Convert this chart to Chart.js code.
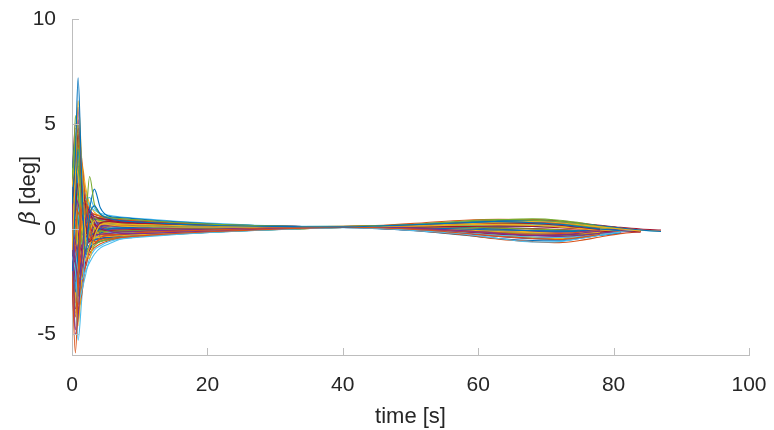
<!DOCTYPE html>
<html>
<head>
<meta charset="utf-8">
<script src="https://cdn.jsdelivr.net/npm/chart.js@4/dist/chart.umd.min.js"></script>
<style>
  html, body { margin: 0; padding: 0; background: #ffffff; }
  #wrap { width: 774px; height: 430px; }
</style>
</head>
<body>
<div id="wrap"><canvas id="c" width="774" height="430"></canvas></div>
<script>
// Sample times [s] shared by every simulation run
const timeSec = [0, 0.5, 0.9, 1.4, 2, 2.6, 3.3, 4.2, 5.5, 7, 9, 12, 16, 21, 27, 34, 40, 46, 52, 58, 63, 68, 72, 75, 78, 81, 84, 87];

// Sideslip angle beta [deg] per run (null once a run has finished)
const run01 = [1.2, 3.5, 7.2, 2.8, -1.2, 0.6, 1.1, 0.7, 0.5, 0.4, 0.35, 0.3, 0.22, 0.17, 0.13, 0.11, 0.1, 0.15, 0.22, 0.3, 0.35, 0.3, 0.22, 0.12, 0.0, -0.08, null, null];
const run02 = [-2.0, -5.9, -3.2, 0.8, 1.3, 0.2, -0.6, -0.5, -0.45, -0.4, -0.35, -0.28, -0.2, -0.12, -0.05, 0.04, 0.09, 0.05, -0.05, -0.2, -0.35, -0.45, -0.5, -0.4, -0.25, null, null, null];
const run03 = [-1.0, 2.5, 6.1, 3.5, -0.5, -1.4, -0.4, 0.2, 0.3, 0.25, 0.22, 0.2, 0.16, 0.14, 0.12, 0.11, 0.12, 0.12, 0.18, 0.25, 0.32, 0.36, 0.3, 0.2, 0.1, 0.0, -0.1, null];
const run04 = [1.5, -5.0, -4.2, -1.5, 0.4, 0.9, 0.5, 0.1, -0.1, -0.2, -0.22, -0.2, -0.15, -0.1, -0.02, 0.05, 0.08, 0.08, 0.02, -0.08, -0.2, -0.3, -0.28, -0.2, -0.1, null, null, null];
const run05 = [2.4, 4.2, 5.0, 1.0, 0.6, 2.5, 1.2, 0.7, 0.55, 0.5, 0.45, 0.38, 0.3, 0.22, 0.16, 0.12, 0.13, 0.16, 0.25, 0.38, 0.45, 0.42, 0.35, 0.25, 0.12, 0.0, null, null];
const run06 = [-1.3, -2.0, -3.5, -3.0, -2.2, -1.4, -1.0, -0.8, -0.6, -0.48, -0.42, -0.34, -0.25, -0.15, -0.06, 0.03, 0.06, 0.02, -0.1, -0.25, -0.45, -0.62, -0.6, -0.45, -0.3, -0.15, null, null];
const run07 = [0.9, 3.0, 4.5, 2.0, 0.3, -0.6, -0.2, 0.3, 0.35, 0.3, 0.26, 0.22, 0.18, 0.15, 0.12, 0.11, 0.1, 0.13, 0.2, 0.28, 0.3, 0.26, 0.18, 0.08, -0.02, null, null, null];
const run08 = [-2.6, 1.5, 3.8, 1.2, 0.2, 1.0, 1.9, 1.0, 0.6, 0.55, 0.5, 0.42, 0.33, 0.24, 0.17, 0.12, 0.11, 0.14, 0.2, 0.3, 0.38, 0.4, 0.34, 0.25, 0.15, 0.05, -0.05, -0.12];
const run09 = [0.7, -4.2, -2.0, 1.5, 0.8, -0.3, -0.7, -0.4, -0.3, -0.25, -0.2, -0.15, -0.1, -0.05, 0.02, 0.06, 0.09, 0.07, 0.0, -0.1, -0.18, -0.25, -0.22, -0.15, null, null, null, null];
const run10 = [2.0, 3.2, 2.5, 0.5, -0.8, -0.2, 0.4, 0.35, 0.2, 0.15, 0.12, 0.1, 0.08, 0.08, 0.09, 0.1, 0.1, 0.12, 0.15, 0.2, 0.22, 0.18, 0.1, 0.02, -0.05, -0.1, null, null];
const run11 = [0.2, -1.5, -2.8, -2.0, -1.0, -0.5, -0.3, -0.25, -0.2, -0.15, -0.12, -0.08, -0.04, 0.0, 0.04, 0.08, 0.1, 0.06, -0.02, -0.12, -0.22, -0.3, -0.35, -0.3, -0.2, -0.1, null, null];
const run12 = [-0.9, 5.4, 3.0, -0.5, -1.0, 0.0, 0.5, 0.4, 0.3, 0.25, 0.2, 0.18, 0.15, 0.13, 0.12, 0.11, 0.12, 0.14, 0.22, 0.32, 0.42, 0.48, 0.42, 0.3, 0.15, null, null, null];
const run13 = [-0.8, -1.2, -2.0, -2.4, -2.0, -1.6, -1.2, -0.9, -0.7, -0.5, -0.4, -0.3, -0.22, -0.14, -0.06, 0.02, 0.07, 0.04, -0.05, -0.18, -0.3, -0.38, -0.4, -0.35, -0.25, -0.12, -0.05, null];
const run14 = [0.0, 1.0, 2.2, 1.8, 1.2, 0.8, 0.6, 0.5, 0.45, 0.4, 0.35, 0.3, 0.24, 0.18, 0.14, 0.12, 0.11, 0.1, 0.1, 0.12, 0.14, 0.12, 0.06, 0.0, -0.06, null, null, null];
const run15 = [-1.0, -3.0, -1.0, 0.5, 0.2, -0.3, -0.2, 0.0, 0.05, 0.05, 0.06, 0.07, 0.08, 0.08, 0.09, 0.1, 0.1, 0.08, 0.05, 0.0, -0.05, -0.08, -0.1, -0.12, null, null, null, null];
const run16 = [1.7, 2.0, 4.0, 3.0, 1.5, 0.9, 0.7, 0.6, 0.5, 0.45, 0.4, 0.34, 0.27, 0.2, 0.15, 0.12, 0.13, 0.18, 0.3, 0.42, 0.46, 0.44, 0.36, 0.26, 0.15, 0.05, -0.05, null];
const run17 = [-2.2, -3.0, -4.6, -2.5, 0.0, 0.5, 0.1, -0.3, -0.35, -0.32, -0.28, -0.24, -0.18, -0.1, -0.03, 0.05, 0.09, 0.1, 0.08, 0.02, -0.06, -0.15, -0.2, -0.2, -0.15, null, null, null];
const run18 = [1.0, 1.5, 1.2, 0.6, 0.2, 0.0, 0.1, 0.15, 0.15, 0.12, 0.1, 0.08, 0.07, 0.08, 0.09, 0.1, 0.1, 0.09, 0.06, 0.02, -0.05, -0.12, -0.15, -0.12, -0.06, 0.0, null, null];
const run19 = [-1.2, -1.8, -1.0, -0.2, 0.3, 0.2, 0.0, -0.1, -0.12, -0.1, -0.08, -0.05, -0.02, 0.02, 0.05, 0.08, 0.1, 0.12, 0.14, 0.18, 0.22, 0.25, 0.22, 0.16, 0.08, 0.0, null, null];
const run20 = [2.9, 2.5, 3.5, 2.5, 1.6, 1.1, 0.9, 0.75, 0.65, 0.58, 0.52, 0.45, 0.36, 0.27, 0.18, 0.13, 0.12, 0.1, 0.12, 0.16, 0.2, 0.22, 0.18, 0.1, null, null, null, null];
const run21 = [0.3, -2.5, -1.5, 0.5, 1.2, 0.8, 0.3, 0.0, -0.1, -0.12, -0.1, -0.08, -0.04, 0.0, 0.04, 0.08, 0.1, 0.05, -0.05, -0.15, -0.25, -0.3, -0.28, -0.22, -0.14, -0.08, -0.1, null];
const run22 = [-0.5, 0.8, 2.8, 2.2, 0.8, 0.0, -0.3, -0.2, 0.0, 0.05, 0.07, 0.08, 0.09, 0.09, 0.1, 0.1, 0.1, 0.11, 0.1, 0.05, -0.02, -0.08, -0.1, -0.08, -0.05, -0.08, null, null];
const run23 = [-0.4, -1.0, -3.8, -3.2, -1.8, -1.2, -0.9, -0.7, -0.55, -0.45, -0.38, -0.3, -0.2, -0.12, -0.04, 0.04, 0.09, 0.12, 0.16, 0.22, 0.28, 0.3, 0.26, 0.18, 0.08, null, null, null];
const run24 = [-1.7, 4.8, 4.0, 0.0, -1.5, -0.8, 0.0, 0.2, 0.25, 0.22, 0.2, 0.17, 0.14, 0.12, 0.11, 0.1, 0.1, 0.06, -0.02, -0.14, -0.28, -0.4, -0.45, -0.38, -0.25, -0.12, null, null];
const run25 = [0.0, -0.6, -1.2, -0.8, -0.4, -0.2, -0.1, -0.05, 0.0, 0.02, 0.03, 0.04, 0.05, 0.06, 0.08, 0.09, 0.1, 0.12, 0.15, 0.22, 0.3, 0.32, 0.28, 0.2, 0.1, 0.0, -0.08, null];
const run26 = [0.3, 2.0, 1.5, 0.3, -0.5, -0.6, -0.3, -0.1, 0.0, 0.05, 0.08, 0.08, 0.09, 0.09, 0.1, 0.1, 0.1, 0.08, 0.02, -0.1, -0.22, -0.3, -0.32, -0.28, -0.2, -0.12, null, null];
const run27 = [-1.1, -2.8, -5.3, -3.5, -1.0, 0.2, 0.3, 0.0, -0.15, -0.2, -0.2, -0.18, -0.14, -0.08, -0.02, 0.05, 0.09, 0.06, -0.02, -0.12, -0.2, -0.25, -0.22, -0.15, null, null, null, null];
const run28 = [0.1, 1.6, 3.0, 2.4, 1.0, 0.4, 0.2, 0.25, 0.3, 0.3, 0.28, 0.24, 0.2, 0.16, 0.13, 0.11, 0.1, 0.13, 0.2, 0.32, 0.42, 0.45, 0.38, 0.28, 0.18, 0.08, 0.0, -0.05];
const run29 = [-0.5, -2.2, -2.6, -1.6, -0.8, -0.6, -0.5, -0.45, -0.4, -0.35, -0.3, -0.24, -0.17, -0.1, -0.03, 0.04, 0.08, 0.05, -0.03, -0.15, -0.3, -0.45, -0.5, -0.42, -0.3, -0.18, null, null];
const run30 = [0.4, 1.0, 0.8, 0.4, 0.3, 0.25, 0.2, 0.2, 0.18, 0.16, 0.15, 0.14, 0.13, 0.12, 0.11, 0.1, 0.1, 0.12, 0.17, 0.25, 0.3, 0.28, 0.22, 0.12, 0.04, null, null, null];
const run31 = [-0.3, -0.8, -0.6, -0.4, -0.3, -0.25, -0.22, -0.2, -0.18, -0.16, -0.14, -0.11, -0.07, -0.03, 0.02, 0.06, 0.09, 0.07, 0.02, -0.05, -0.12, -0.18, -0.2, -0.18, -0.12, -0.05, null, null];
const run32 = [1.4, 3.8, 5.8, 1.5, -1.8, -0.8, 0.2, 0.35, 0.3, 0.25, 0.2, 0.17, 0.14, 0.12, 0.11, 0.1, 0.1, 0.14, 0.2, 0.26, 0.3, 0.32, 0.28, 0.2, 0.1, 0.02, null, null];
const run33 = [0.2, -3.3, -2.0, -0.5, -0.8, -1.1, -0.8, -0.6, -0.5, -0.42, -0.36, -0.3, -0.22, -0.14, -0.06, 0.02, 0.08, 0.1, 0.1, 0.08, 0.04, 0.0, -0.04, -0.08, -0.1, null, null, null];
const run34 = [-0.2, 1.2, 2.5, 1.5, 1.4, 1.5, 1.0, 0.7, 0.55, 0.48, 0.42, 0.36, 0.28, 0.2, 0.14, 0.11, 0.1, 0.16, 0.26, 0.36, 0.4, 0.36, 0.28, 0.18, 0.08, null, null, null];
const run35 = [-1.8, -1.5, -4.0, -2.8, -0.6, 0.3, 0.2, 0.0, -0.05, -0.05, -0.04, -0.03, 0.0, 0.03, 0.06, 0.08, 0.1, 0.12, 0.12, 0.1, 0.06, 0.02, -0.03, -0.06, -0.1, -0.12, -0.15, null];
const run36 = [1.0, 3.9, 2.0, -0.2, -0.3, 0.3, 0.45, 0.4, 0.3, 0.25, 0.2, 0.17, 0.14, 0.12, 0.11, 0.1, 0.1, 0.09, 0.08, 0.08, 0.1, 0.12, 0.08, 0.02, null, null, null, null];
const run37 = [0.0, -1.0, -2.0, -1.2, -0.5, -0.3, -0.25, -0.25, -0.25, -0.24, -0.22, -0.18, -0.13, -0.08, -0.02, 0.04, 0.07, 0.02, -0.1, -0.28, -0.48, -0.6, -0.65, -0.55, -0.38, -0.22, -0.12, null];
const run38 = [0.7, 2.2, 4.3, 2.8, 0.5, -0.4, -0.5, -0.2, 0.1, 0.18, 0.2, 0.18, 0.15, 0.13, 0.12, 0.11, 0.1, 0.12, 0.16, 0.2, 0.25, 0.28, 0.25, 0.18, 0.1, 0.02, -0.05, -0.1];
const run39 = [-0.7, -1.5, -1.8, -1.2, -0.6, -0.4, -0.35, -0.3, -0.28, -0.25, -0.22, -0.18, -0.13, -0.07, -0.01, 0.05, 0.09, 0.11, 0.14, 0.2, 0.26, 0.3, 0.28, 0.2, 0.1, null, null, null];
const run40 = [0.9, 1.8, 3.3, 1.8, 0.6, 0.4, 0.5, 0.55, 0.5, 0.45, 0.4, 0.33, 0.25, 0.18, 0.13, 0.11, 0.1, 0.08, 0.05, 0.0, -0.06, -0.1, -0.12, -0.1, -0.06, -0.02, null, null];
const run41 = [1.8, 3.0, 1.2, -0.6, -0.4, 0.2, 0.3, 0.25, 0.2, 0.18, 0.15, 0.12, 0.1, 0.09, 0.08, 0.08, 0.09, 0.12, 0.18, 0.24, 0.28, 0.3, 0.26, 0.18, 0.1, 0.02, null, null];
const run42 = [-2.2, -3.5, -1.0, 0.8, 0.6, 0.1, -0.2, -0.3, -0.3, -0.28, -0.25, -0.2, -0.15, -0.09, -0.03, 0.03, 0.07, 0.04, -0.04, -0.14, -0.24, -0.32, -0.34, -0.28, -0.18, null, null, null];
const run43 = [2.5, 4.4, 2.8, 0.4, -0.6, -0.5, -0.1, 0.1, 0.2, 0.22, 0.22, 0.2, 0.17, 0.14, 0.12, 0.11, 0.11, 0.15, 0.22, 0.3, 0.36, 0.38, 0.32, 0.22, 0.12, 0.04, -0.04, null];
const run44 = [-1.5, -0.5, 1.5, 2.0, 1.0, 0.3, 0.0, -0.1, -0.08, -0.05, -0.03, 0.0, 0.02, 0.04, 0.06, 0.08, 0.1, 0.1, 0.09, 0.07, 0.04, 0.0, -0.04, -0.07, -0.1, null, null, null];
const run45 = [0.8, -1.8, -3.0, -1.8, -0.9, -0.6, -0.45, -0.38, -0.32, -0.28, -0.25, -0.21, -0.16, -0.1, -0.04, 0.02, 0.07, 0.12, 0.18, 0.26, 0.33, 0.36, 0.32, 0.24, 0.14, 0.05, null, null];
const run46 = [-2.8, -4.8, -2.5, 0.2, 0.9, 0.6, 0.2, -0.05, -0.12, -0.15, -0.15, -0.13, -0.1, -0.06, -0.01, 0.04, 0.08, 0.06, 0.02, -0.04, -0.1, -0.16, -0.18, -0.16, -0.12, -0.08, -0.1, null];
const run47 = [1.2, 2.6, 3.6, 2.2, 1.0, 0.5, 0.35, 0.3, 0.28, 0.26, 0.24, 0.21, 0.18, 0.15, 0.13, 0.12, 0.12, 0.08, 0.02, -0.06, -0.14, -0.2, -0.22, -0.18, -0.12, -0.06, null, null];
const run48 = [-0.9, -2.0, -1.6, -0.6, 0.1, 0.3, 0.2, 0.05, -0.02, -0.04, -0.04, -0.03, -0.01, 0.02, 0.05, 0.08, 0.1, 0.13, 0.18, 0.25, 0.3, 0.33, 0.3, 0.22, 0.12, null, null, null];
const run49 = [2.0, 5.0, 4.2, 1.2, -0.3, -0.2, 0.4, 0.5, 0.42, 0.36, 0.31, 0.26, 0.2, 0.15, 0.12, 0.11, 0.11, 0.1, 0.08, 0.04, -0.02, -0.08, -0.1, -0.08, -0.05, null, null, null];
const run50 = [-1.8, -2.6, -3.2, -2.2, -1.3, -0.9, -0.7, -0.58, -0.5, -0.44, -0.38, -0.31, -0.23, -0.15, -0.07, 0.01, 0.07, 0.0, -0.12, -0.3, -0.45, -0.55, -0.56, -0.45, -0.3, -0.18, null, null];
const run51 = [0.5, 1.6, 2.4, 1.4, 0.5, 0.1, 0.0, 0.05, 0.1, 0.12, 0.13, 0.13, 0.12, 0.11, 0.1, 0.1, 0.1, 0.07, 0.01, -0.08, -0.16, -0.22, -0.24, -0.2, -0.14, null, null, null];
const run52 = [-0.6, 1.0, -0.8, -1.6, -1.0, -0.4, -0.15, -0.05, 0.0, 0.02, 0.03, 0.04, 0.05, 0.06, 0.07, 0.08, 0.09, 0.11, 0.13, 0.16, 0.18, 0.18, 0.14, 0.08, 0.02, -0.04, -0.08, null];
const run53 = [1.5, 3.4, 5.2, 2.2, 0.2, -0.2, 0.15, 0.3, 0.35, 0.34, 0.31, 0.27, 0.22, 0.17, 0.13, 0.11, 0.12, 0.15, 0.24, 0.34, 0.4, 0.42, 0.36, 0.26, 0.14, 0.04, null, null];
const run54 = [-2.5, -1.2, 0.8, 1.2, 0.4, -0.2, -0.4, -0.35, -0.3, -0.26, -0.22, -0.18, -0.13, -0.08, -0.02, 0.04, 0.09, 0.07, 0.02, -0.06, -0.14, -0.2, -0.22, -0.2, -0.14, -0.08, null, null];
const run55 = [0.0, 2.2, 3.0, 1.6, 0.9, 0.7, 0.6, 0.52, 0.46, 0.42, 0.38, 0.33, 0.27, 0.2, 0.15, 0.12, 0.11, 0.13, 0.18, 0.24, 0.28, 0.28, 0.24, 0.16, 0.08, 0.0, -0.06, -0.12];
const run56 = [-1.0, -3.8, -3.0, -1.0, 0.0, 0.2, 0.0, -0.15, -0.2, -0.22, -0.21, -0.18, -0.14, -0.09, -0.03, 0.03, 0.08, 0.03, -0.06, -0.18, -0.3, -0.4, -0.42, -0.34, -0.22, -0.12, null, null];
const run57 = [2.8, 2.0, 0.5, -0.5, -0.3, 0.1, 0.25, 0.28, 0.26, 0.23, 0.2, 0.17, 0.14, 0.12, 0.11, 0.1, 0.1, 0.14, 0.2, 0.28, 0.34, 0.36, 0.3, 0.2, null, null, null, null];
const run58 = [-0.4, -1.0, -2.2, -1.5, -0.7, -0.35, -0.2, -0.12, -0.08, -0.06, -0.05, -0.03, -0.01, 0.02, 0.05, 0.07, 0.09, 0.06, 0.0, -0.08, -0.16, -0.22, -0.24, -0.22, -0.16, -0.1, -0.06, null];
const run59 = [1.0, 0.5, 2.0, 2.6, 1.8, 1.0, 0.55, 0.4, 0.34, 0.3, 0.27, 0.23, 0.19, 0.15, 0.12, 0.11, 0.1, 0.09, 0.1, 0.12, 0.16, 0.18, 0.14, 0.08, 0.0, -0.06, null, null];
const run60 = [-2.0, -2.8, -0.5, 0.6, 0.2, -0.3, -0.5, -0.45, -0.38, -0.33, -0.29, -0.24, -0.18, -0.11, -0.04, 0.03, 0.08, 0.1, 0.12, 0.16, 0.2, 0.24, 0.22, 0.14, 0.06, null, null, null];
const run61 = [0.3, 2.8, 1.8, 0.0, -0.6, -0.3, 0.1, 0.2, 0.18, 0.15, 0.13, 0.11, 0.1, 0.09, 0.09, 0.09, 0.1, 0.12, 0.15, 0.2, 0.24, 0.24, 0.2, 0.13, 0.05, -0.03, null, null];
const run62 = [0.6, -0.4, -1.5, -1.2, -0.4, 0.1, 0.2, 0.1, 0.02, -0.02, -0.03, -0.03, -0.02, 0.01, 0.04, 0.07, 0.09, 0.05, -0.02, -0.12, -0.22, -0.28, -0.28, -0.22, -0.14, -0.06, null, null];
const run63 = [-0.8, 1.5, 4.8, 3.4, 1.2, 0.3, 0.1, 0.15, 0.2, 0.22, 0.23, 0.22, 0.19, 0.16, 0.13, 0.11, 0.11, 0.16, 0.24, 0.33, 0.38, 0.38, 0.33, 0.24, 0.14, null, null, null];
const run64 = [1.6, -0.6, -2.4, -2.0, -1.2, -0.75, -0.55, -0.45, -0.38, -0.32, -0.28, -0.23, -0.17, -0.1, -0.04, 0.03, 0.08, 0.12, 0.15, 0.18, 0.2, 0.2, 0.16, 0.1, 0.03, -0.04, -0.1, null];
const run65 = [-1.2, 0.4, 1.8, 1.0, 0.5, 0.55, 0.6, 0.5, 0.4, 0.34, 0.29, 0.24, 0.19, 0.15, 0.12, 0.11, 0.1, 0.06, -0.01, -0.1, -0.18, -0.24, -0.26, -0.22, -0.15, null, null, null];
const run66 = [0.2, -2.2, -1.8, -0.8, -0.5, -0.6, -0.62, -0.55, -0.47, -0.4, -0.35, -0.28, -0.2, -0.12, -0.05, 0.02, 0.07, 0.05, 0.0, -0.07, -0.14, -0.2, -0.22, -0.2, -0.14, -0.08, null, null];
const run67 = [2.2, 3.8, 2.2, 0.6, 0.2, 0.35, 0.5, 0.48, 0.42, 0.37, 0.32, 0.27, 0.21, 0.16, 0.12, 0.1, 0.1, 0.13, 0.18, 0.26, 0.32, 0.34, 0.3, 0.22, 0.12, 0.03, -0.05, null];
const run68 = [-1.4, -3.2, -4.4, -2.0, 0.3, 0.6, 0.3, 0.05, -0.06, -0.1, -0.11, -0.1, -0.08, -0.04, 0.0, 0.05, 0.09, 0.11, 0.13, 0.16, 0.2, 0.22, 0.2, 0.14, 0.06, null, null, null];
const run69 = [0.9, 2.4, 1.0, -0.4, -0.7, -0.4, -0.05, 0.1, 0.12, 0.1, 0.09, 0.08, 0.08, 0.08, 0.09, 0.09, 0.1, 0.07, 0.02, -0.05, -0.12, -0.18, -0.2, -0.18, -0.14, -0.1, null, null];
const run70 = [-0.5, -1.4, -2.6, -2.6, -1.6, -1.0, -0.7, -0.5, -0.4, -0.33, -0.28, -0.22, -0.16, -0.09, -0.03, 0.03, 0.08, 0.14, 0.2, 0.28, 0.36, 0.4, 0.36, 0.26, 0.14, 0.04, null, null];
const run71 = [1.3, 3.2, 4.0, 2.6, 1.2, 0.65, 0.5, 0.44, 0.4, 0.36, 0.33, 0.28, 0.22, 0.17, 0.13, 0.11, 0.1, 0.09, 0.06, 0.02, -0.04, -0.1, -0.14, -0.14, -0.1, -0.06, -0.1, null];
const run72 = [-2.4, -2.0, 0.2, 0.9, 0.5, 0.0, -0.2, -0.22, -0.2, -0.17, -0.15, -0.12, -0.09, -0.05, 0.0, 0.05, 0.09, 0.1, 0.11, 0.13, 0.16, 0.16, 0.12, 0.06, null, null, null, null];
const run73 = [0.4, 1.2, 3.2, 3.2, 2.0, 1.2, 0.8, 0.62, 0.52, 0.46, 0.4, 0.34, 0.27, 0.2, 0.14, 0.11, 0.1, 0.14, 0.21, 0.3, 0.37, 0.4, 0.34, 0.24, 0.14, 0.06, null, null];
const run74 = [-0.2, -2.6, -3.6, -1.6, 0.4, 0.4, 0.0, -0.2, -0.24, -0.24, -0.22, -0.19, -0.14, -0.09, -0.03, 0.03, 0.08, 0.02, -0.08, -0.22, -0.36, -0.46, -0.46, -0.36, -0.24, -0.14, -0.08, null];
const run75 = [1.1, 0.2, -0.8, -0.2, 0.6, 0.8, 0.55, 0.35, 0.25, 0.2, 0.17, 0.14, 0.12, 0.1, 0.1, 0.1, 0.1, 0.09, 0.06, 0.0, -0.06, -0.12, -0.14, -0.12, -0.08, null, null, null];
const run76 = [-1.6, -0.8, 0.6, 0.2, -0.6, -0.8, -0.5, -0.32, -0.24, -0.2, -0.17, -0.13, -0.09, -0.05, 0.0, 0.05, 0.09, 0.13, 0.19, 0.28, 0.36, 0.38, 0.32, 0.22, 0.12, 0.03, null, null];
const run77 = [0.6, 3.6, 4.6, 1.6, -0.8, -1.0, -0.3, 0.05, 0.15, 0.16, 0.15, 0.14, 0.12, 0.11, 0.1, 0.1, 0.1, 0.12, 0.14, 0.17, 0.2, 0.2, 0.16, 0.1, 0.04, -0.02, null, null];
const run78 = [-0.3, -1.9, -1.2, 0.0, 0.4, 0.15, -0.1, -0.18, -0.17, -0.15, -0.13, -0.1, -0.07, -0.03, 0.01, 0.05, 0.09, 0.06, 0.01, -0.06, -0.12, -0.16, -0.18, -0.16, null, null, null, null];
const run79 = [1.9, 1.0, 2.8, 1.6, 0.8, 0.6, 0.7, 0.62, 0.55, 0.5, 0.45, 0.38, 0.3, 0.22, 0.16, 0.12, 0.11, 0.08, 0.03, -0.04, -0.1, -0.14, -0.16, -0.14, -0.1, -0.06, -0.06, null];
const run80 = [-2.9, -4.0, -1.2, 0.4, 0.1, -0.5, -0.7, -0.6, -0.5, -0.43, -0.37, -0.3, -0.22, -0.14, -0.06, 0.02, 0.07, 0.09, 0.1, 0.12, 0.14, 0.14, 0.1, 0.05, 0.0, null, null, null];

const runs = [run01, run02, run03, run04, run05, run06, run07, run08, run09, run10,
              run11, run12, run13, run14, run15, run16, run17, run18, run19, run20,
              run21, run22, run23, run24, run25, run26, run27, run28, run29, run30,
              run31, run32, run33, run34, run35, run36, run37, run38, run39, run40,
              run41, run42, run43, run44, run45, run46, run47, run48, run49, run50,
              run51, run52, run53, run54, run55, run56, run57, run58, run59, run60,
              run61, run62, run63, run64, run65, run66, run67, run68, run69, run70,
              run71, run72, run73, run74, run75, run76, run77, run78, run79, run80];

// Axis tick values
const xTicks = [0, 20, 40, 60, 80, 100];
const yTicks = [-5, 0, 5, 10];

// Default line colour order
const palette = ['#0072BD', '#D95319', '#EDB120', '#7E2F8E', '#77AC30', '#4DBEEE', '#A2142F'];

const axisGray = '#bdbdbd';
const textColor = '#262626';
const tickFont = { family: "'Liberation Sans', Arial, sans-serif", size: 21 };

const datasets = runs.map((vals, i) => ({
  data: vals.map((v, k) => ({ x: timeSec[k], y: v })),
  borderColor: palette[i % palette.length],
  borderWidth: 1.1,
  pointRadius: 0,
  fill: false,
  spanGaps: false,
  cubicInterpolationMode: 'monotone'
}));

// Inward tick marks and the y-axis title with an italic beta
const axisDecor = {
  id: 'axisDecor',
  afterDraw(chart) {
    const ctx = chart.ctx;
    const xs = chart.scales.x, ys = chart.scales.y;
    const a = chart.chartArea;
    ctx.save();
    ctx.strokeStyle = axisGray;
    ctx.lineWidth = 1;
    ctx.beginPath();
    xTicks.forEach(v => {
      const px = Math.round(xs.getPixelForValue(v)) + 0.5;
      ctx.moveTo(px, a.bottom);
      ctx.lineTo(px, a.bottom - 7);
    });
    yTicks.forEach(v => {
      const py = Math.round(ys.getPixelForValue(v)) + 0.5;
      ctx.moveTo(a.left, py);
      ctx.lineTo(a.left + 7, py);
    });
    ctx.stroke();

    // y title
    const cy = (a.top + a.bottom) / 2 + 3;
    ctx.translate(29, cy);
    ctx.rotate(-Math.PI / 2);
    ctx.fillStyle = textColor;
    ctx.textBaseline = 'middle';
    const betaFont = "italic 23px 'DejaVu Serif', 'Liberation Serif', serif";
    const restFont = "22px 'Liberation Sans', Arial, sans-serif";
    ctx.font = betaFont;
    const wb = ctx.measureText('β').width;
    ctx.font = restFont;
    const wr = ctx.measureText(' [deg]').width;
    const x0 = -(wb + wr) / 2;
    ctx.font = betaFont;
    ctx.textAlign = 'left';
    ctx.fillText('β', x0, 0);
    ctx.font = restFont;
    ctx.fillText(' [deg]', x0 + wb, 0);
    ctx.restore();
  }
};

new Chart(document.getElementById('c'), {
  type: 'line',
  data: { datasets },
  options: {
    responsive: false,
    animation: false,
    events: [],
    layout: { padding: { top: 19, right: 25, bottom: 0, left: 0 } },
    plugins: { legend: { display: false }, tooltip: { enabled: false } },
    scales: {
      x: {
        type: 'linear',
        min: 0, max: 100,
        afterBuildTicks: s => { s.ticks = xTicks.map(v => ({ value: v })); },
        afterFit: s => { s.height = 75; s.paddingLeft = 0; s.paddingRight = 0; },
        grid: { display: false },
        border: { display: true, color: axisGray, width: 1 },
        ticks: { color: textColor, font: tickFont, padding: 10, maxRotation: 0 },
        title: {
          display: true, text: 'time [s]', color: textColor,
          font: { family: "'Liberation Sans', Arial, sans-serif", size: 22 },
          padding: { top: 0, bottom: 0 }
        }
      },
      y: {
        type: 'linear',
        min: -6, max: 10,
        afterBuildTicks: s => { s.ticks = yTicks.map(v => ({ value: v })); },
        afterFit: s => { s.width = 72; s.paddingTop = 0; s.paddingBottom = 0; },
        grid: { display: false },
        border: { display: true, color: axisGray, width: 1 },
        ticks: { color: textColor, font: tickFont, padding: 8 }
      }
    }
  },
  plugins: [axisDecor]
});
</script>
</body>
</html>
